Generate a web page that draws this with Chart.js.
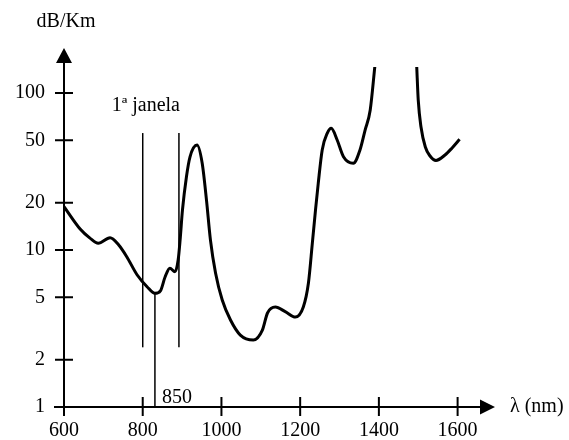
<!DOCTYPE html>
<html>
<head>
<meta charset="utf-8">
<title>Atenuação na fibra</title>
<script src="https://cdn.jsdelivr.net/npm/chart.js@4.4.1/dist/chart.umd.min.js"></script>
<style>
  html, body { margin: 0; padding: 0; background: #fff; }
  canvas { display: block; }
</style>
</head>
<body>
<canvas id="chart" width="569" height="440"></canvas>
<script>
// wavelength (nm) and attenuation (dB/Km); null = curve runs off the top
const wavelengths = [600, 641, 666, 687, 717, 739, 759, 786, 811, 831, 845, 857, 869, 882, 890,
  895, 901, 911, 920, 938, 951, 962, 972, 985, 1002, 1023, 1048, 1081, 1104, 1117, 1137, 1162,
  1188, 1208, 1221, 1231, 1239, 1246, 1256, 1269, 1279, 1294, 1310, 1335, 1352, 1365, 1378, 1390,
  1445, 1496, 1500, 1507, 1518, 1530, 1545, 1568, 1586, 1605];
const attenuation = [18.9, 13.6, 11.9, 11.03, 11.97, 10.76, 9.1, 6.93, 5.84, 5.3, 5.5, 6.76, 7.65, 7.27, 8.64,
  11.6, 18, 29.2, 39.1, 46.6, 35.8, 20.8, 11.6, 7.14, 4.8, 3.58, 2.87, 2.67, 3.09, 3.97, 4.33, 4.05,
  3.74, 4.33, 6.16, 11.1, 18, 26.7, 43.4, 55.6, 59.6, 50.2, 39.3, 35.7, 43.4, 58.1, 78, 150,
  null, 150, 90, 60.7, 45.3, 39.7, 37.2, 40.3, 44.7, 50.7];

const xTicks = [600, 800, 1000, 1200, 1400, 1600];
const yTicks = [1, 2, 5, 10, 20, 50, 100];

// "1ª janela" edges and the 850 marker
const windowEdges = [800, 892];
const windowRange = [2.4, 55.6];
const peakWavelength = 831;
const peakRange = [1, 5.3];

const serif = '"Liberation Serif", "Times New Roman", serif';

const curve = wavelengths.map((w, i) => ({ x: w, y: attenuation[i] }));

const thinLine = (pts) => ({
  data: pts,
  borderColor: '#000',
  borderWidth: 1.5,
  pointRadius: 0,
  tension: 0,
});

const datasets = [
  {
    data: curve,
    borderColor: '#000',
    borderWidth: 3,
    pointRadius: 0,
    spanGaps: false,
    cubicInterpolationMode: 'monotone',
  },
  ...windowEdges.map(w => thinLine([{ x: w, y: windowRange[0] }, { x: w, y: windowRange[1] }])),
  thinLine([{ x: peakWavelength, y: peakRange[0] }, { x: peakWavelength, y: peakRange[1] }]),
];

// axis lines with arrows, crossing tick marks and the free text
const arrowAxes = {
  id: 'arrowAxes',
  afterDraw(chart) {
    const { ctx, chartArea, scales: { x, y } } = chart;
    const x0 = x.getPixelForValue(600);
    const y0 = y.getPixelForValue(1);
    ctx.save();
    ctx.strokeStyle = '#000';
    ctx.fillStyle = '#000';
    ctx.lineWidth = 2;
    ctx.beginPath();
    ctx.moveTo(x0, y0 + 9);
    ctx.lineTo(x0, chartArea.top - 8);
    ctx.moveTo(x0 - 10, y0);
    ctx.lineTo(chartArea.right - 8, y0);
    yTicks.forEach(v => {
      const py = y.getPixelForValue(v);
      ctx.moveTo(x0 - 9, py);
      ctx.lineTo(x0 + 9, py);
    });
    xTicks.slice(1).forEach(v => {
      const px = x.getPixelForValue(v);
      ctx.moveTo(px, y0 - 10);
      ctx.lineTo(px, y0 + 9);
    });
    ctx.stroke();

    ctx.beginPath();
    ctx.moveTo(x0, chartArea.top - 19);
    ctx.lineTo(x0 - 8, chartArea.top - 4);
    ctx.lineTo(x0 + 8, chartArea.top - 4);
    ctx.closePath();
    ctx.moveTo(chartArea.right, y0);
    ctx.lineTo(chartArea.right - 15, y0 - 7.5);
    ctx.lineTo(chartArea.right - 15, y0 + 7.5);
    ctx.closePath();
    ctx.fill();

    ctx.font = '20px ' + serif;
    ctx.textAlign = 'center';
    ctx.textBaseline = 'middle';
    ctx.fillText('dB/Km', x0 + 2, 22);
    ctx.textAlign = 'left';
    ctx.fillText('λ (nm)', chartArea.right + 15, y0);
    ctx.textBaseline = 'alphabetic';
    ctx.fillText('1ª janela', x.getPixelForValue(windowEdges[0]) - 31, 111);
    ctx.fillText('850', x.getPixelForValue(peakWavelength) + 7, y0 - 4);
    ctx.restore();
  }
};

new Chart(document.getElementById('chart'), {
  type: 'line',
  data: { datasets },
  options: {
    responsive: false,
    animation: false,
    devicePixelRatio: 1,
    layout: { padding: { top: 67, right: 74, bottom: 0, left: 0 } },
    plugins: { legend: { display: false }, tooltip: { enabled: false } },
    scales: {
      x: {
        type: 'linear',
        min: 600,
        max: 1695,
        grid: { display: false, drawTicks: false },
        border: { display: false },
        afterFit: (s) => { s.height = 33; },
        afterBuildTicks: (s) => { s.ticks = xTicks.map(v => ({ value: v })); },
        ticks: {
          autoSkip: false,
          maxRotation: 0,
          padding: 12,
          color: '#000',
          font: { family: serif, size: 20 },
          callback: (v) => String(v),
        },
      },
      y: {
        type: 'logarithmic',
        min: 1,
        max: 146.5,
        grid: { display: false, drawTicks: false },
        border: { display: false },
        afterFit: (s) => { s.width = 64; },
        afterBuildTicks: (s) => { s.ticks = yTicks.map(v => ({ value: v })); },
        ticks: {
          autoSkip: false,
          padding: 19,
          color: '#000',
          font: { family: serif, size: 20 },
          callback: (v) => String(v),
        },
      },
    },
  },
  plugins: [arrowAxes],
});
</script>
</body>
</html>
